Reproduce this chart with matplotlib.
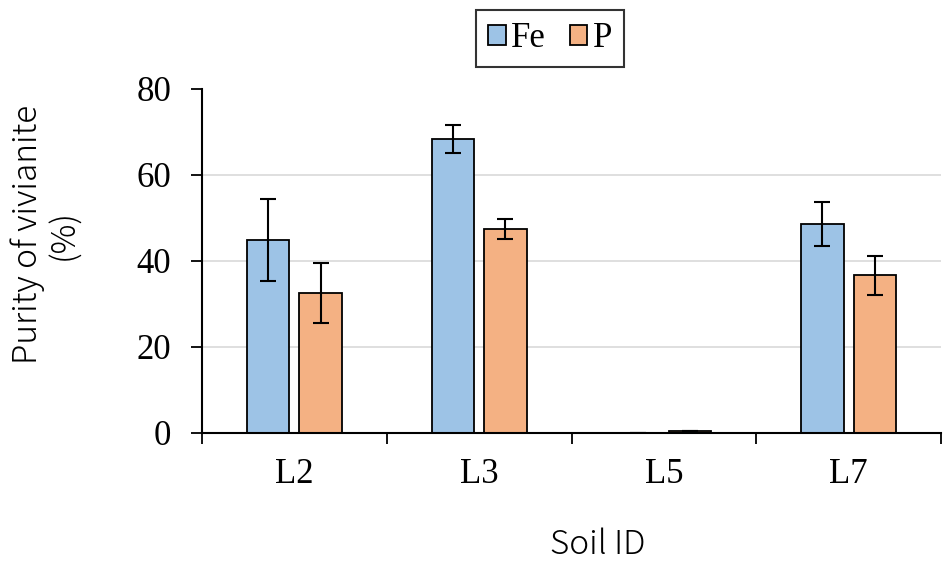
import matplotlib
matplotlib.use("Agg")
import matplotlib.pyplot as plt
import numpy as np

soils = ["L2", "L3", "L5", "L7"]
fe_purity = [44.9, 68.4, 0.0, 48.6]
fe_err = [9.5, 3.3, 0.0, 5.1]
p_purity = [32.6, 47.4, 0.5, 36.7]
p_err = [7.0, 2.3, 0.0, 4.5]

fig = plt.figure(figsize=(9.43, 5.66), dpi=100)
ax = fig.add_axes([0.2142, 0.235, 0.7838, 0.6078])

x = np.arange(len(soils))
w = 0.23
serif = "Liberation Serif"
sans = "Noto Sans CJK JP"

for yv in (20, 40, 60):
    ax.axhline(yv, color="#d9d9d9", lw=1.2, zorder=0)

err_kw = dict(ecolor="black", elinewidth=1.5, capsize=6, capthick=1.5)
ax.bar(x - 0.142, fe_purity, w, yerr=fe_err, color="#9dc3e6",
       edgecolor="black", linewidth=1.3, label="Fe", error_kw=err_kw, zorder=2)
ax.bar(x + 0.142, p_purity, w, yerr=p_err, color="#f4b183",
       edgecolor="black", linewidth=1.3, label="P", error_kw=err_kw, zorder=2)

ax.set_xlim(-0.5, 3.5)
ax.set_ylim(0, 80)
ax.set_yticks([0, 20, 40, 60, 80])
ax.set_xticks(x)
ax.set_xticklabels(soils)
ax.set_xticks(np.arange(-0.5, 4.0, 1.0), minor=True)
ax.tick_params(axis="x", which="major", length=0, pad=18)
ax.tick_params(axis="x", which="minor", length=8, width=1.3, direction="out")
ax.tick_params(axis="y", length=8, width=1.3, direction="out", pad=14)
for lab in ax.get_xticklabels() + ax.get_yticklabels():
    lab.set_fontfamily(serif)
    lab.set_fontsize(25)

for s in ("top", "right"):
    ax.spines[s].set_visible(False)
for s in ("left", "bottom"):
    ax.spines[s].set_linewidth(1.5)

fig.text(598 / 943, 1 - 545 / 566, "Soil ID", family=sans, fontsize=24,
         fontweight="light", ha="center", va="center")
fig.text(46 / 943, 0.5 * (2 - (100 + 368) / 566), "Purity of vivianite\n(%)",
         family=sans, fontsize=24, fontweight="light", rotation=90,
         ha="center", va="center", linespacing=1.05, multialignment="center")

leg = ax.legend(loc="upper center", bbox_to_anchor=(0.471, 1.2297), ncol=2,
                frameon=True, fancybox=False, edgecolor="black",
                prop={"family": serif, "size": 25}, handlelength=0.5,
                handleheight=0.5, handletextpad=0.15, columnspacing=0.7,
                borderpad=0.35, borderaxespad=0)
leg.get_frame().set_linewidth(1.5)

fig.savefig("out.png", dpi=100)
